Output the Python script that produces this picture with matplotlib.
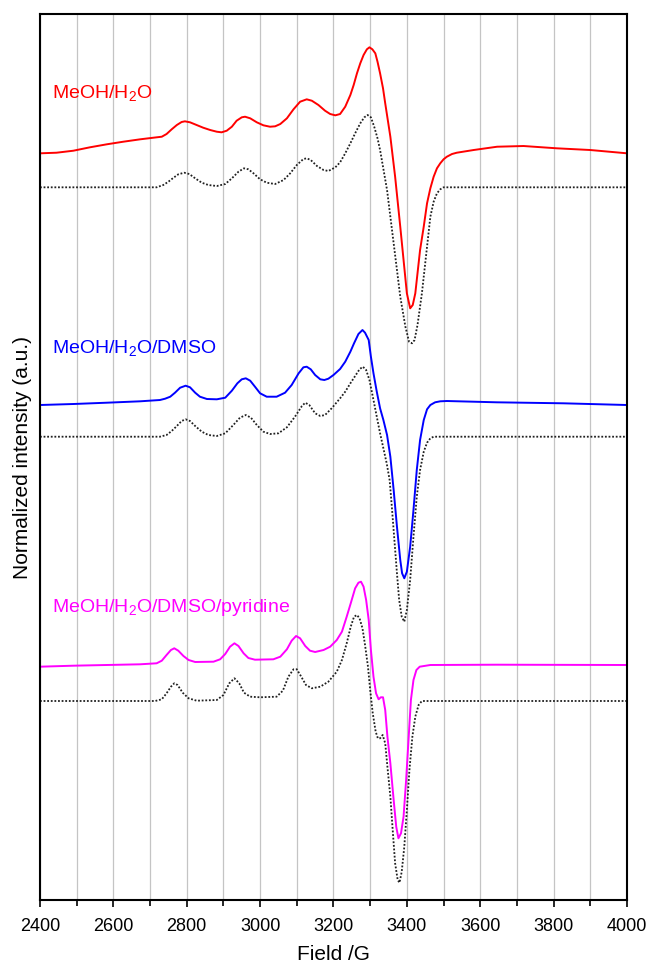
import numpy as np
import matplotlib
matplotlib.use("Agg")
from matplotlib import pyplot as plt
from matplotlib.ticker import MultipleLocator

plt.rcParams['font.family'] = ['Liberation Sans', 'DejaVu Sans']
plt.rcParams['mathtext.fontset'] = 'custom'
plt.rcParams['mathtext.rm'] = 'Liberation Sans'

# experimental spectra (field in G, signal relative to own baseline, a.u.)
b_red = [2400, 2445, 2491, 2536, 2582, 2627, 2673, 2718, 2732, 2745, 2759, 2773, 2786, 2795,
         2809, 2827, 2845, 2864, 2882, 2895, 2909, 2923, 2936, 2950, 2959, 2973, 2991, 3009,
         3027, 3041, 3055, 3073, 3091, 3109, 3127, 3141, 3159, 3177, 3191, 3205, 3218, 3232,
         3246, 3255, 3264, 3273, 3282, 3291, 3298, 3306, 3314, 3320, 3327, 3335, 3341, 3355,
         3368, 3382, 3391, 3400, 3409, 3416, 3423, 3429, 3436, 3446, 3455, 3464, 3473, 3482,
         3491, 3500, 3509, 3523, 3536, 3582, 3646, 3718, 3809, 3900, 4000]
s_red = [0, 0.6, 2.6, 6, 9, 11.6, 14, 16, 16.6, 19.3, 24, 28.3, 31.3, 32,
         31, 28.3, 25.6, 23.3, 21.6, 21, 22.6, 26.6, 32.6, 36, 36.6, 35, 31, 28,
         26.6, 27, 29.3, 35, 44, 51.6, 54, 52.6, 48.3, 42.6, 39.3, 38, 39.3, 46.6,
         58.3, 68.3, 80, 90, 98.3, 104, 106, 104, 100, 91.6, 80, 65, 50, 16.6,
         -23.4, -73.4, -106.7, -140, -155, -151.7, -140, -120, -96.7, -73.3, -50, -35, -23.4, -15,
         -10, -6, -3.4, -0.7, 0.6, 3.3, 6.6, 7.3, 5, 3.3, 0]

b_blue = [2400, 2491, 2582, 2673, 2727, 2741, 2755, 2768, 2782, 2797, 2809, 2823, 2836, 2855,
          2882, 2905, 2923, 2938, 2950, 2961, 2973, 2986, 3000, 3018, 3045, 3068, 3086, 3105,
          3118, 3127, 3138, 3150, 3164, 3175, 3186, 3200, 3218, 3232, 3246, 3256, 3268, 3279,
          3286, 3296, 3302, 3309, 3318, 3327, 3336, 3346, 3355, 3364, 3373, 3382, 3387, 3393,
          3400, 3409, 3418, 3427, 3436, 3446, 3455, 3464, 3477, 3491, 3509, 3645, 3827, 4000]
s_blue = [0, 1, 2.3, 3.7, 5, 6.3, 8.3, 12.3, 17.3, 19.3, 17.7, 12.3, 8.3, 6,
          5.7, 7.3, 14.3, 21.7, 25.7, 26.7, 24.3, 18.3, 11.7, 8.3, 8.3, 12.3, 20, 31.7,
          37.7, 38.3, 35.7, 30, 25.7, 25, 26.3, 30, 36, 43.3, 53.3, 61.7, 71, 75,
          72.3, 65, 48.3, 31.7, 13.3, -3.3, -15, -30, -51.7, -85, -121.7, -155, -168.3, -173.3,
          -166.7, -141.7, -105, -65, -35, -15, -4.3, 0, 2.7, 3.7, 4, 2.7, 1.7, 0]

b_mag = [2400, 2491, 2582, 2673, 2718, 2732, 2745, 2757, 2766, 2777, 2791, 2805, 2823, 2873,
         2891, 2905, 2918, 2930, 2941, 2955, 2968, 2986, 3036, 3055, 3073, 3086, 3098, 3109,
         3123, 3136, 3150, 3173, 3191, 3209, 3223, 3236, 3247, 3259, 3268, 3275, 3282, 3289,
         3296, 3302, 3309, 3316, 3323, 3329, 3335, 3341, 3347, 3355, 3364, 3371, 3377, 3384,
         3391, 3398, 3405, 3411, 3418, 3426, 3435, 3464, 3645, 4000]
s_mag = [-0.7, 0.3, 1, 1.7, 2.7, 5.3, 11, 16, 17.7, 15.3, 10, 6, 4, 4.3,
         6.7, 12, 19.3, 22.7, 20, 12.7, 8, 6.3, 6.7, 9.3, 16.7, 25.3, 30, 27.7,
         20, 15.3, 14, 16, 19.3, 26, 34.3, 49.3, 62.7, 77.7, 83.3, 84.3, 79.3, 66,
         46, 16, -10.7, -27.3, -33.3, -31.3, -31.3, -44, -70.7, -97.3, -134, -160.7, -172.3, -167.3,
         -150.7, -114, -70.7, -34, -14, -4, -0.7, 1, 1.3, 1]

# simulated spectra
b_sim1 = [2400, 2718, 2736, 2750, 2764, 2777, 2793, 2807, 2823, 2841, 2859, 2882, 2905, 2923,
          2941, 2956, 2968, 2982, 3000, 3018, 3041, 3064, 3082, 3100, 3118, 3127, 3138, 3155,
          3173, 3186, 3205, 3218, 3232, 3246, 3259, 3273, 3284, 3293, 3302, 3311, 3320, 3327,
          3346, 3364, 3382, 3396, 3406, 3414, 3421, 3429, 3441, 3455, 3464, 3473, 3482, 3491,
          3500, 4000]
s_sim1 = [0, 0, 2.3, 5.6, 9.6, 13, 14.6, 13.3, 9, 4.6, 2.3, 1.3, 3.3, 9,
          15.6, 19, 18, 14, 8, 4.6, 3.3, 7.3, 14, 22.3, 28.3, 29, 27.3, 21.3,
          17.3, 16.3, 20, 25, 34, 44, 54, 64, 70, 72.3, 70, 60.6, 49, 37.3,
          -2.7, -56, -109.4, -139.4, -154.4, -156, -152.7, -137.7, -106, -59.4, -29.4, -14.4, -6, -2,
          0, 0]

b_sim2 = [2400, 2727, 2745, 2759, 2773, 2786, 2797, 2809, 2823, 2841, 2859, 2882, 2905, 2927,
          2945, 2961, 2975, 2991, 3009, 3027, 3050, 3073, 3095, 3114, 3123, 3134, 3150, 3164,
          3177, 3195, 3218, 3232, 3246, 3259, 3271, 3280, 3289, 3298, 3309, 3318, 3327, 3336,
          3345, 3353, 3359, 3366, 3373, 3379, 3386, 3393, 3400, 3409, 3418, 3427, 3436, 3446,
          3455, 3464, 3473, 4000]
s_sim2 = [0, 0, 1.7, 5.7, 10.7, 15.7, 17.4, 15.7, 10.7, 5, 1.7, 0.7, 3.4, 11.7,
          19, 21.7, 19, 11.7, 5, 2.7, 3.4, 9.4, 20, 30.7, 34, 31.7, 23.4, 20.7,
          21.7, 28.4, 38.4, 45, 53.4, 60.7, 67.4, 70, 66.7, 56.7, 36.7, 20, 3.4, -11.6,
          -26.6, -43.3, -70, -103.3, -136.6, -163.3, -180, -185, -173.3, -143.3, -100, -60, -33.3, -15,
          -6, -1.6, 0, 0]

b_sim3 = [2400, 2714, 2732, 2745, 2757, 2766, 2775, 2789, 2805, 2827, 2882, 2900, 2916, 2930,
          2943, 2956, 2973, 3000, 3045, 3062, 3077, 3091, 3100, 3111, 3125, 3141, 3164, 3186,
          3209, 3223, 3236, 3247, 3256, 3264, 3271, 3279, 3286, 3294, 3300, 3307, 3315, 3321,
          3327, 3334, 3341, 3347, 3355, 3362, 3368, 3375, 3380, 3386, 3393, 3400, 3407, 3415,
          3423, 3432, 3441, 4000]
s_sim3 = [0, 0, 1.7, 7.7, 14.3, 17.7, 16, 8.3, 2.7, 0.3, 1, 6, 17.7, 22.7,
          17.7, 8.3, 4.3, 3.7, 4.3, 10.3, 24.3, 31.7, 31.7, 25, 16, 12.7, 14.3, 19.3,
          29.3, 41, 57.7, 74.3, 84.3, 86, 82.7, 72.7, 56, 34.3, 11, -12.3, -30.7, -37.3,
          -37.3, -34, -42.3, -65.7, -95.7, -132.3, -162.3, -179, -181.7, -170.7, -145.7, -109, -69, -35.7,
          -15.7, -4, 0, 0]

labels = ['MeOH/H$_\\mathrm{2}$O', 'MeOH/H$_\\mathrm{2}$O/DMSO', 'MeOH/H$_\\mathrm{2}$O/DMSO/pyridine']
colors = ['#ff0000', '#0000ff', '#ff00ff']

fig = plt.figure(figsize=(6.49, 9.67), dpi=100)
ax = fig.add_axes([0.0616, 0.0693, 0.9045, 0.9162])

ax.xaxis.set_major_locator(MultipleLocator(200))
ax.xaxis.set_minor_locator(MultipleLocator(100))
ax.grid(True, which='both', axis='x', color='#c4c4c4', lw=0.9)
ax.set_axisbelow(True)

exp = [(b_red, s_red, 746.7), (b_blue, s_blue, 495), (b_mag, s_mag, 234)]
sim = [(b_sim1, s_sim1, 712.7), (b_sim2, s_sim2, 463.3), (b_sim3, s_sim3, 199)]

for (b, s, off), c in zip(exp, colors):
    ax.plot(b, np.array(s) + off, color=c, lw=1.4, solid_joinstyle='round')
for b, s, off in sim:
    ax.plot(b, np.array(s) + off, color='#202020', lw=1.3, ls=(0, (1, 1)))

for lab, c, y in zip(labels, colors, [801.7, 546, 287.7]):
    ax.text(2432, y, lab, color=c, fontsize=14, va='baseline', ha='left')

ax.set_xlim(2400, 4000)
ax.set_ylim(0, 886)
ax.set_yticks([])
ax.tick_params(axis='x', which='both', direction='out', labelsize=13, pad=8, width=1.2)
ax.tick_params(axis='x', which='major', length=5)
ax.tick_params(axis='x', which='minor', length=4)
for sp in ax.spines.values():
    sp.set_linewidth(1.5)
ax.set_xlabel('Field /G', fontsize=15, labelpad=7)
ax.set_ylabel('Normalized intensity (a.u.)', fontsize=15, labelpad=6)

fig.savefig('out.png', dpi=100)
